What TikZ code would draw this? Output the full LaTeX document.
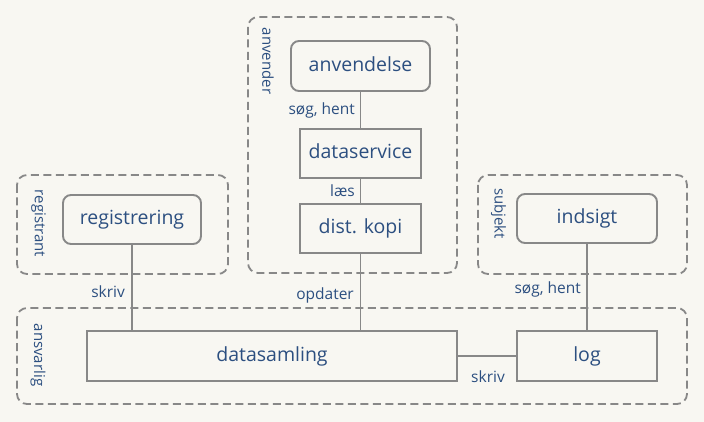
\documentclass[tikz,border=0pt]{standalone}
\usepackage{fontspec}
\setmainfont{Open Sans}
\definecolor{bgc}{HTML}{F8F7F2}
\definecolor{txt}{HTML}{2C4F80}
\definecolor{ln}{HTML}{888888}
\tikzset{
  box/.style={draw=ln, line width=1.9pt, fill=bgc, text=txt, inner sep=0pt, text height=14.5pt, text depth=4pt, font=\fontsize{19.5}{22}\selectfont},
  rbox/.style={box, rounded corners=8pt},
  grp/.style={draw=ln, line width=1.8pt, dash pattern=on 8pt off 4.5pt, rounded corners=10pt},
  glabel/.style={text=txt, rotate=-90, inner sep=0pt, font=\fontsize{15}{18}\selectfont},
  elabel/.style={text=txt, inner sep=0pt, font=\fontsize{15.5}{18}\selectfont},
  conn/.style={draw=ln, line width=1.9pt}
}
\begin{document}
\begin{tikzpicture}[x=1pt,y=-1pt]
\path[fill=bgc] (0,0) rectangle (704,422);
\useasboundingbox (0,0) rectangle (704,422);
% groups
\draw[grp] (248,17) rectangle (457,273);
\draw[grp] (17,175) rectangle (228,274);
\draw[grp] (478,175) rectangle (687,274);
\draw[grp] (17,308) rectangle (687,404);
\node[glabel] (gA) at (268,61) {anvender};
\node[glabel] (gR) at (38.5,223.5) {registrant};
\node[glabel] (gS) at (498.5,213.5) {subjekt};
\node[glabel] (gV) at (38,355) {ansvarlig};
% nodes
\node[rbox, minimum width=139pt, minimum height=50pt] (anv) at (360.5,66) {anvendelse};
\node[box, minimum width=121pt, minimum height=49pt] (ds) at (360.5,153.5) {dataservice};
\node[box, minimum width=121pt, minimum height=49pt] (dk) at (360.5,228.5) {dist. kopi};
\node[rbox, minimum width=138pt, minimum height=49pt] (reg) at (132,219.5) {registrering};
\node[rbox, minimum width=140pt, minimum height=49pt] (ind) at (587,218.5) {indsigt};
\node[box, minimum width=370pt, minimum height=50pt] (dsam) at (272,356) {datasamling};
\node[box, minimum width=140pt, minimum height=50pt] (log) at (587,356) {log};
% connectors
\draw[conn] (anv.south) -- (ds.north);
\draw[conn] (ds.south) -- (dk.north);
\draw[conn] (reg.south) -- (reg.south |- dsam.north);
\draw[conn] (dk.south) -- (dk.south |- dsam.north);
\draw[conn] (ind.south) -- (log.north);
\draw[conn] (dsam.east) -- (log.west);
% edge labels
\node[elabel, anchor=east] (l1) at (355,110) {søg, hent};
\node[elabel, anchor=east] (l2) at (355,191) {læs};
\node[elabel, anchor=east] (l3) at (125,292) {skriv};
\node[elabel, anchor=east] (l4) at (354,295) {opdater};
\node[elabel, anchor=east] (l5) at (581,289) {søg, hent};
\node[elabel] (l6) at (488,377) {skriv};
\end{tikzpicture}
\end{document}
